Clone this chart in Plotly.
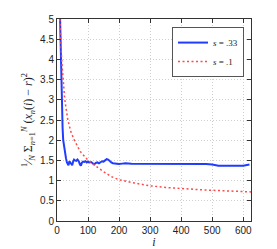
import plotly.graph_objects as go

# --- data ---
blue_i = [4, 9, 12, 14, 16, 18, 20, 23, 26, 29, 32, 35, 37, 40, 43, 46, 49, 52, 55, 58, 62, 66, 70,
          74, 77, 80, 84, 88, 92, 96, 100, 105, 110, 115, 120, 125, 130, 135, 140, 145, 150, 155,
          160, 165, 170, 175, 180, 190, 200, 210, 220, 240, 260, 280, 300, 320, 340, 360, 380, 400,
          420, 440, 460, 480, 500, 520, 540, 560, 580, 600, 620]
blue_v = [7.0, 5.0, 4.0, 3.0, 2.5, 2.3, 2.0, 1.8, 1.7, 1.55, 1.45, 1.42, 1.38, 1.48, 1.45, 1.40, 1.38,
          1.47, 1.52, 1.50, 1.49, 1.52, 1.48, 1.40, 1.37, 1.44, 1.47, 1.46, 1.48, 1.45, 1.47, 1.45,
          1.46, 1.43, 1.40, 1.44, 1.45, 1.43, 1.46, 1.48, 1.47, 1.50, 1.53, 1.52, 1.48, 1.45, 1.43,
          1.42, 1.41, 1.42, 1.43, 1.42, 1.42, 1.41, 1.42, 1.41, 1.42, 1.42, 1.41, 1.42, 1.41, 1.41,
          1.42, 1.41, 1.40, 1.37, 1.37, 1.37, 1.38, 1.37, 1.40]

red_i = [4, 9, 15, 20, 25, 35, 45, 56, 75, 100, 125, 150, 175, 200, 250, 300, 350, 400, 450, 500,
         550, 600, 625]
red_v = [7.0, 5.0, 4.0, 3.4, 3.0, 2.5, 2.2, 2.0, 1.72, 1.5, 1.35, 1.22, 1.1, 1.02, 0.94, 0.87,
         0.83, 0.80, 0.78, 0.76, 0.745, 0.73, 0.72]

x_ticks = [0, 100, 200, 300, 400, 500, 600]
y_ticks = [0, 0.5, 1, 1.5, 2, 2.5, 3, 3.5, 4, 4.5, 5]
y_tick_text = ["0", "0.5", "1", "1.5", "2", "2.5", "3", "3.5", "4", "4.5", "5"]

fig = go.Figure()
fig.add_trace(go.Scatter(x=blue_i, y=blue_v, mode="lines", name="<i>s</i> = .33",
                         line=dict(color="#1f3cff", width=2)))
fig.add_trace(go.Scatter(x=red_i, y=red_v, mode="lines", name="<i>s</i> = .1",
                         line=dict(color="#ff4a4a", width=1.5, dash="2px,2.5px")))

axis_common = dict(showline=True, linecolor="#333333", linewidth=1, mirror="ticks",
                   ticks="inside", ticklen=4, tickcolor="#333333", automargin=False,
                   showgrid=True, gridcolor="#cfcfcf", griddash="1px,2px", gridwidth=1,
                   zeroline=False, tickfont=dict(family="Liberation Sans", size=10, color="#222"))

fig.update_xaxes(range=[0, 625], tickvals=x_ticks, **axis_common,
                 title=dict(text="<i>i</i>", font=dict(family="Liberation Serif", size=12, color="#222"),
                            standoff=2))
fig.update_yaxes(range=[0, 5], tickvals=y_ticks, ticktext=y_tick_text, **axis_common,
                 title=dict(text="<sup>1</sup>⁄<sub><i>N</i></sub> Σ<sub><i>n</i>=1</sub><sup><i>N</i></sup> (<i>x<sub>n</sub></i>(<i>i</i>) − <i>r</i>)<sup>2</sup>",
                            font=dict(family="Liberation Serif", size=12, color="#222"), standoff=4))

fig.update_layout(
    width=277, height=249,
    margin=dict(l=57, r=26, t=19, b=28),
    paper_bgcolor="white", plot_bgcolor="white",
    showlegend=True,
    legend=dict(x=0.964, y=0.96, xanchor="right", yanchor="top",
                bgcolor="white", bordercolor="#555", borderwidth=1,
                font=dict(family="Liberation Serif", size=9, color="#222"),
                itemwidth=30, tracegroupgap=0),
)

fig.write_html("out.html", config={"displayModeBar": False},
               post_script="document.body.style.margin='0';document.body.style.overflow='hidden';")
